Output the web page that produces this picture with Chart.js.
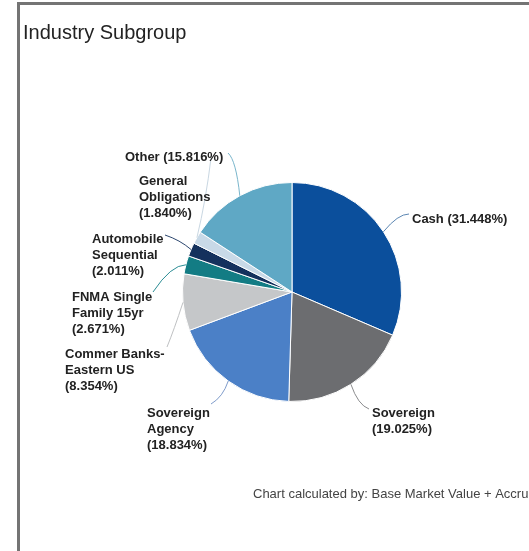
<!DOCTYPE html>
<html>
<head>
<meta charset="utf-8">
<script src="https://cdn.jsdelivr.net/npm/chart.js@4.4.1/dist/chart.umd.min.js"></script>
<style>
  html, body { margin: 0; padding: 0; background: #fff; overflow: hidden; }
  #wrap { position: relative; width: 529px; height: 551px; }
  canvas { position: absolute; left: 0; top: 0; }
</style>
</head>
<body>
<div id="wrap"><canvas id="c" width="529" height="551"></canvas></div>
<script>
// ---- data ----
const categories = ['Cash', 'Sovereign', 'Sovereign Agency', 'Commer Banks-Eastern US',
  'FNMA Single Family 15yr', 'Automobile Sequential', 'General Obligations', 'Other'];
const values = [31.448, 19.025, 18.834, 8.354, 2.671, 2.011, 1.840, 15.816];
// wrapped label text (category part), the percentage is appended from values
const labelWraps = [
  ['Cash'],
  ['Sovereign'],
  ['Sovereign', 'Agency'],
  ['Commer Banks-', 'Eastern US'],
  ['FNMA Single', 'Family 15yr'],
  ['Automobile', 'Sequential'],
  ['General', 'Obligations'],
  ['Other']
];
const pctOnSameLine = [true, false, false, false, false, false, false, true];
const titleText = 'Industry Subgroup';
const footerText = 'Chart calculated by: Base Market Value + Accrued Interest';

// ---- styles ----
const sliceColors = ['#0b4f9c', '#6c6d70', '#4b80c7', '#c5c7c9', '#137c84', '#14315d', '#c8d9e7', '#5fa8c5'];
const lineColors  = ['#5d87b3', '#8b8c8e', '#7f9ccb', '#bfc1c3', '#2b8d95', '#2c476f', '#c9d7e2', '#7ab6cc'];

// label placement (layout only): left x, first line centre y, connector end, control point
const labelLayout = [
  { x: 412, y: 219, end: [409, 214], ctrl: [398, 214] },
  { x: 372, y: 413, end: [369, 409], ctrl: [358, 405] },
  { x: 147, y: 413, end: [211, 404], ctrl: [223, 397] },
  { x: 65,  y: 354, end: [167, 347], ctrl: [174, 330] },
  { x: 72,  y: 297, end: [153, 292], ctrl: [171, 265] },
  { x: 92,  y: 239, end: [165, 235], ctrl: [180, 240] },
  { x: 139, y: 181, end: [211, 158], ctrl: [206, 200] },
  { x: 125, y: 157, end: [228, 153], ctrl: [236, 160] }
];

function buildLines(i) {
  const pct = '(' + values[i].toFixed(3) + '%)';
  const lines = labelWraps[i].slice();
  if (pctOnSameLine[i]) lines[lines.length - 1] += ' ' + pct;
  else lines.push(pct);
  return lines;
}

const decorPlugin = {
  id: 'decor',
  beforeDraw(chart) {
    const ctx = chart.ctx;
    ctx.save();
    ctx.fillStyle = '#ffffff';
    ctx.fillRect(0, 0, chart.width, chart.height);
    // panel border (top + left)
    ctx.fillStyle = '#747474';
    ctx.fillRect(17, 2, chart.width - 17, 3);
    ctx.fillRect(17, 2, 3, chart.height - 2);
    // title
    ctx.fillStyle = '#222222';
    ctx.font = '20px "Liberation Sans", Arial, sans-serif';
    ctx.textBaseline = 'middle';
    ctx.textAlign = 'left';
    ctx.fillText(titleText, 23, 33);
    // footer
    ctx.fillStyle = '#444444';
    ctx.font = '13px "Liberation Sans", Arial, sans-serif';
    ctx.fillText(footerText, 253, 494);
    ctx.restore();
  },
  afterDatasetsDraw(chart) {
    const ctx = chart.ctx;
    const meta = chart.getDatasetMeta(0);
    ctx.save();
    meta.data.forEach((arc, i) => {
      const p = arc.getProps(['x', 'y', 'startAngle', 'endAngle', 'outerRadius'], true);
      const mid = (p.startAngle + p.endAngle) / 2;
      const sx = p.x + Math.cos(mid) * p.outerRadius;
      const sy = p.y + Math.sin(mid) * p.outerRadius;
      const L = labelLayout[i];
      ctx.beginPath();
      ctx.strokeStyle = lineColors[i];
      ctx.lineWidth = 1;
      ctx.moveTo(sx, sy);
      ctx.quadraticCurveTo(L.ctrl[0], L.ctrl[1], L.end[0], L.end[1]);
      ctx.stroke();
      ctx.fillStyle = '#222222';
      ctx.font = 'bold 13px "Liberation Sans", Arial, sans-serif';
      ctx.textBaseline = 'middle';
      ctx.textAlign = 'left';
      buildLines(i).forEach((t, k) => ctx.fillText(t, L.x, L.y + k * 16));
    });
    ctx.restore();
  }
};

new Chart(document.getElementById('c'), {
  type: 'pie',
  data: {
    labels: categories,
    datasets: [{
      data: values,
      backgroundColor: sliceColors,
      borderColor: '#ffffff',
      borderWidth: 1,
      hoverOffset: 0
    }]
  },
  options: {
    responsive: false,
    devicePixelRatio: 1,
    animation: false,
    layout: { padding: { left: 182, top: 182, right: 127, bottom: 149 } },
    plugins: {
      legend: { display: false },
      tooltip: { enabled: false },
      title: { display: false }
    }
  },
  plugins: [decorPlugin]
});
</script>
</body>
</html>
